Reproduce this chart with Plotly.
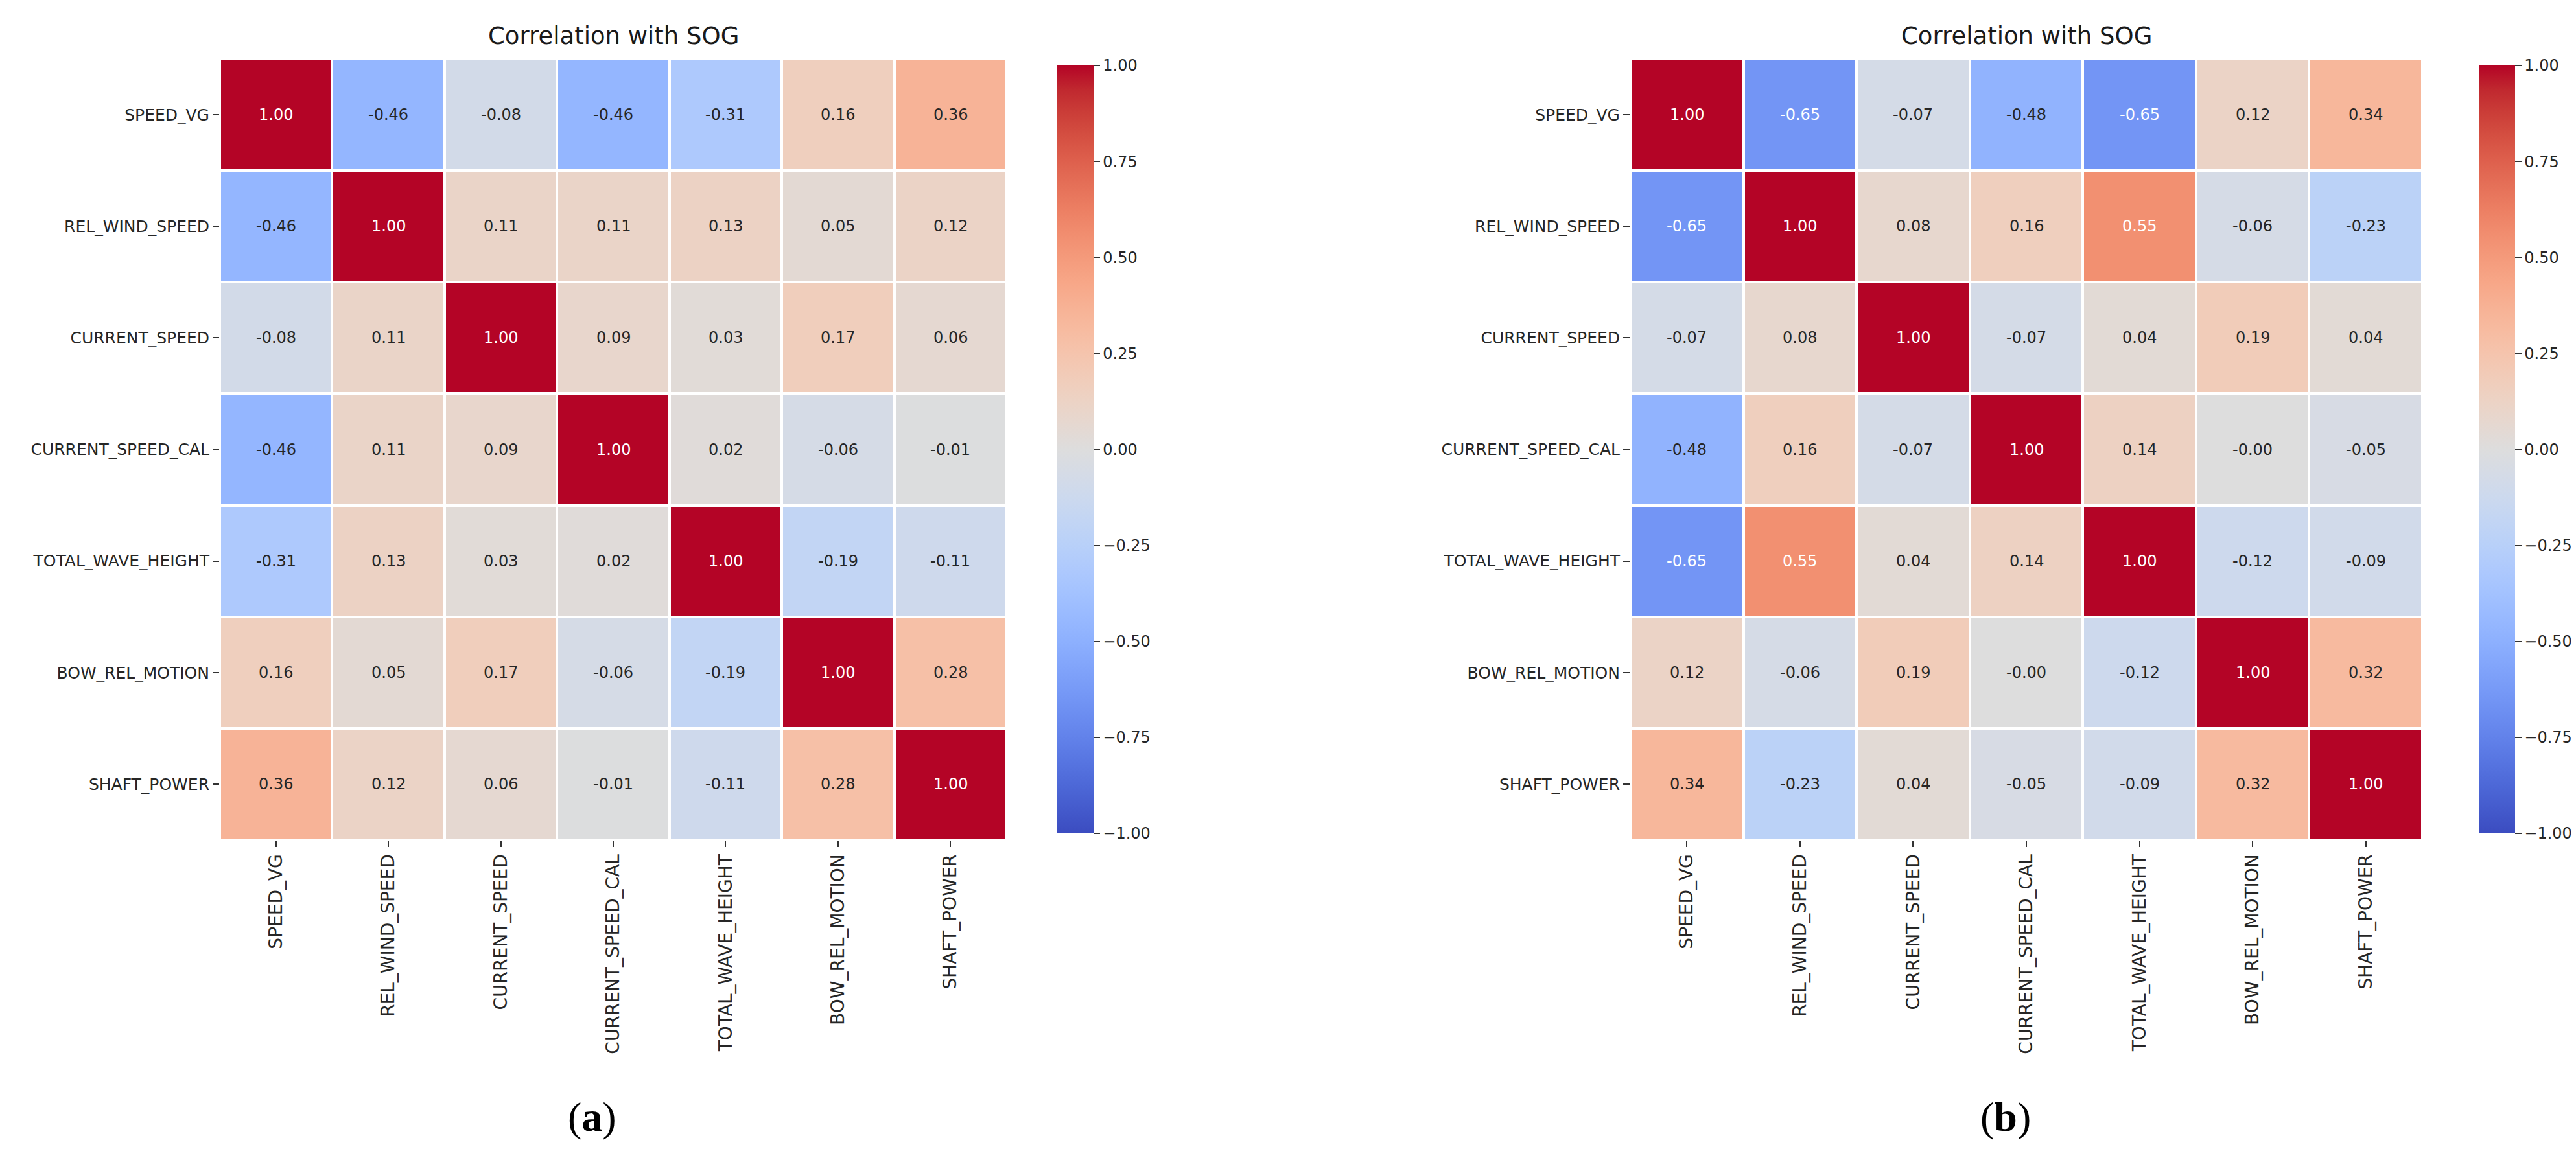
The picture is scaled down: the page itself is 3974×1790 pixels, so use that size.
import numpy as np
import plotly.graph_objects as go

# ---------------- data ----------------
variables = ["SPEED_VG", "REL_WIND_SPEED", "CURRENT_SPEED", "CURRENT_SPEED_CAL",
             "TOTAL_WAVE_HEIGHT", "BOW_REL_MOTION", "SHAFT_POWER"]

corr_a = [
    [1.00, -0.46, -0.08, -0.46, -0.31, 0.16, 0.36],
    [-0.46, 1.00, 0.11, 0.11, 0.13, 0.05, 0.12],
    [-0.08, 0.11, 1.00, 0.09, 0.03, 0.17, 0.06],
    [-0.46, 0.11, 0.09, 1.00, 0.02, -0.06, -0.01],
    [-0.31, 0.13, 0.03, 0.02, 1.00, -0.19, -0.11],
    [0.16, 0.05, 0.17, -0.06, -0.19, 1.00, 0.28],
    [0.36, 0.12, 0.06, -0.01, -0.11, 0.28, 1.00],
]

corr_b = [
    [1.00, -0.65, -0.07, -0.48, -0.65, 0.12, 0.34],
    [-0.65, 1.00, 0.08, 0.16, 0.55, -0.06, -0.23],
    [-0.07, 0.08, 1.00, -0.07, 0.04, 0.19, 0.04],
    [-0.48, 0.16, -0.07, 1.00, 0.14, -0.0, -0.05],
    [-0.65, 0.55, 0.04, 0.14, 1.00, -0.12, -0.09],
    [0.12, -0.06, 0.19, -0.0, -0.12, 1.00, 0.32],
    [0.34, -0.23, 0.04, -0.05, -0.09, 0.32, 1.00],
]

titles = ["Correlation with SOG", "Correlation with SOG"]
panel_labels = ["a", "b"]
cbar_ticks = [-1.0, -0.75, -0.5, -0.25, 0.0, 0.25, 0.5, 0.75, 1.0]

# ---------------- style ----------------
# matplotlib "coolwarm" colormap control points
_cw = [
    (0.0, (0.2298057, 0.298717966, 0.753683153)),
    (0.03125, (0.26623388, 0.353094838, 0.801466763)),
    (0.0625, (0.30386891, 0.406535296, 0.84495867)),
    (0.09375, (0.342804478, 0.458757618, 0.883725899)),
    (0.125, (0.38301334, 0.50941904, 0.917387822)),
    (0.15625, (0.424369608, 0.558148092, 0.945619588)),
    (0.1875, (0.46666708, 0.604562568, 0.968154911)),
    (0.21875, (0.509635204, 0.648280772, 0.98478814)),
    (0.25, (0.552953156, 0.688929332, 0.995375608)),
    (0.28125, (0.596262162, 0.726149107, 0.999836203)),
    (0.3125, (0.639176211, 0.759599947, 0.998151185)),
    (0.34375, (0.681291281, 0.788964712, 0.990363227)),
    (0.375, (0.722193294, 0.813952739, 0.976574709)),
    (0.40625, (0.761464949, 0.834302879, 0.956945269)),
    (0.4375, (0.798691636, 0.849786142, 0.931688648)),
    (0.46875, (0.833466556, 0.860207984, 0.901068838)),
    (0.5, (0.865395197, 0.86541021, 0.865395561)),
    (0.53125, (0.897787179, 0.848937047, 0.820880546)),
    (0.5625, (0.924127593, 0.827384882, 0.774508472)),
    (0.59375, (0.944468518, 0.800927443, 0.726736146)),
    (0.625, (0.958852946, 0.769767752, 0.678007945)),
    (0.65625, (0.96732803, 0.734132809, 0.628751763)),
    (0.6875, (0.969954137, 0.694266682, 0.579375448)),
    (0.71875, (0.966811177, 0.650421156, 0.530263762)),
    (0.75, (0.958003065, 0.602842431, 0.481775914)),
    (0.78125, (0.943660866, 0.551750968, 0.434243684)),
    (0.8125, (0.923944917, 0.497406839, 0.387970225)),
    (0.84375, (0.89904617, 0.439559467, 0.343229596)),
    (0.875, (0.869186849, 0.378313092, 0.300267182)),
    (0.90625, (0.834620542, 0.312874446, 0.259301199)),
    (0.9375, (0.795631745, 0.24128379, 0.220525627)),
    (0.96875, (0.752534934, 0.157246067, 0.184115123)),
    (1.0, (0.705673158, 0.01555616, 0.150232812)),
]
colorscale = [[p, "rgb(%d,%d,%d)" % tuple(round(c * 255) for c in rgb)] for p, rgb in _cw]
_pos = np.array([p for p, _ in _cw])
_rgb = np.array([rgb for _, rgb in _cw])


def cell_rgb(v, vmin=-1.0, vmax=1.0):
    t = (v - vmin) / (vmax - vmin)
    return np.array([np.interp(t, _pos, _rgb[:, k]) for k in range(3)])


def text_color(v):
    rgb = cell_rgb(v)
    lin = np.where(rgb <= 0.03928, rgb / 12.92, ((rgb + 0.055) / 1.055) ** 2.4)
    lum = lin.dot([0.2126, 0.7152, 0.0722])
    return "#262626" if lum > 0.408 else "#ffffff"


W, H = 3974, 1790
FONT = "DejaVu Sans"
x_domains = [[331 / W, 1545 / W], [2507 / W, 3729 / W]]
y_domain = [1 - 1288 / H, 1 - 83 / H]
cbar_x = [1613 / W, 3806 / W]
label_x = [905 / W, 3086 / W]

fig = go.Figure()
annotations = []

for i, mat in enumerate([corr_a, corr_b]):
    xa = "x" if i == 0 else "x2"
    ya = "y" if i == 0 else "y2"
    fig.add_trace(go.Heatmap(
        z=mat, x=variables, y=variables,
        xaxis=xa, yaxis=ya,
        zmin=-1, zmax=1, colorscale=colorscale,
        xgap=4, ygap=4, hoverinfo="skip",
        colorbar=dict(
            x=cbar_x[i], xanchor="left", xref="paper",
            y=(y_domain[0] + y_domain[1]) / 2, yanchor="middle",
            len=y_domain[1] - y_domain[0], lenmode="fraction",
            thickness=56, thicknessmode="pixels",
            outlinewidth=0,
            tickmode="array", tickvals=cbar_ticks, tickformat=".2f",
            ticks="outside", ticklen=10, tickwidth=2, tickcolor="#333333",
            tickfont=dict(family=FONT, size=24, color="#262626"),
        ),
    ))
    for r, row in enumerate(mat):
        for c, v in enumerate(row):
            annotations.append(dict(
                x=variables[c], y=variables[r], xref=xa, yref=ya,
                text=f"{v:.2f}", showarrow=False,
                font=dict(family=FONT, size=24, color=text_color(v)),
            ))
    annotations.append(dict(
        x=(x_domains[i][0] + x_domains[i][1]) / 2, y=1 - 48 / H,
        xref="paper", yref="paper", xanchor="center", yanchor="middle",
        text=titles[i], showarrow=False,
        font=dict(family=FONT, size=37, color="#1a1a1a"),
    ))
    annotations.append(dict(
        x=label_x[i], y=1 - 1715 / H,
        xref="paper", yref="paper", xanchor="center", yanchor="middle",
        text=f"(<b>{panel_labels[i]}</b>)", showarrow=False,
        font=dict(family="Liberation Serif", size=64, color="#000000"),
    ))

axis_common = dict(showgrid=False, zeroline=False, showline=False,
                   ticks="outside", ticklen=10, tickwidth=2, tickcolor="#333333")

fig.update_layout(
    width=W, height=H,
    margin=dict(l=0, r=0, t=0, b=0),
    paper_bgcolor="white", plot_bgcolor="white",
    annotations=annotations,
    xaxis=dict(domain=x_domains[0], anchor="y", tickangle=-90,
               tickfont=dict(family=FONT, size=28, color="#262626"), **axis_common),
    yaxis=dict(domain=y_domain, anchor="x", autorange="reversed",
               tickfont=dict(family=FONT, size=25, color="#262626"), **axis_common),
    xaxis2=dict(domain=x_domains[1], anchor="y2", tickangle=-90,
                tickfont=dict(family=FONT, size=28, color="#262626"), **axis_common),
    yaxis2=dict(domain=y_domain, anchor="x2", autorange="reversed",
                tickfont=dict(family=FONT, size=25, color="#262626"), **axis_common),
)

fig.write_html("out.html")
